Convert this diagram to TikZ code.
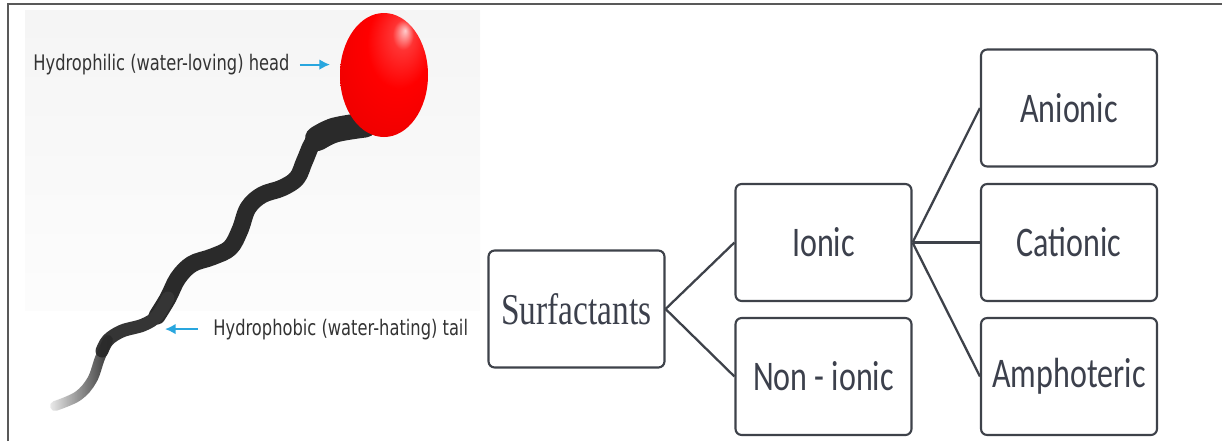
\documentclass[tikz,border=0pt]{standalone}
\usepackage{fontspec}
\usepackage{graphicx}
\usetikzlibrary{arrows.meta, shapes.geometric, fadings}

\setmainfont{Liberation Serif}
\newfontfamily\boxfont{Carlito}
\newfontfamily\labelfont{DejaVu Sans}

\definecolor{boxline}{HTML}{3E424A}
\definecolor{boxtext}{HTML}{3C404C}
\definecolor{arrowblue}{HTML}{29A6DE}
\definecolor{tailgray}{HTML}{2A2A2A}

% all text is set a little narrow
\newcommand{\narrow}[1]{\scalebox{0.76}[1]{#1}}

% glossy red head, highlight up and to the right
\pgfdeclareradialshading{headshade}{\pgfpoint{12bp}{18bp}}{%
  color(0bp)=(red!20!white); color(6bp)=(red!80!white); color(18bp)=(red);
  color(40bp)=(red!92!black); color(60bp)=(red!75!black)}
\tikzfading[name=tailfade, left color=transparent!90, right color=transparent!0]

\begin{document}
\begin{tikzpicture}[
    box/.style={draw=boxline, line width=1.2pt, rounded corners=3.5pt, fill=white,
                minimum width=3.52cm, minimum height=2.34cm, text=boxtext,
                font=\boxfont\fontsize{24}{28}\selectfont},
    link/.style={draw=boxline, line width=1.3pt},
    pointer/.style={draw=arrowblue, line width=1.1pt, -{Latex[length=6pt, width=6pt]}},
    label/.style={anchor=base west, inner sep=0pt, text=black!80,
                  font=\labelfont\fontsize{12.2}{14}\selectfont}
]
    \useasboundingbox (0,0) rectangle (24.44,8.82);

    % --- Frame ---
    \draw[line width=1.2pt, black!65] (0.16,0) -- (0.16,8.74) -- (24.44,8.74);

    % --- Molecule ---

    % backdrop of the molecule
    \shade[top color=black!4, bottom color=black!1] (0.5,2.62) rectangle (9.6,8.62);

    % tail: thick near the head, thinner and fading out at the end
    \draw[tailgray, line width=0.5cm, line cap=round] plot[smooth, tension=0.6]
        coordinates {(7.30,6.32) (6.70,6.22) (6.35,6.05)};
    \draw[tailgray, line width=0.34cm, line cap=round, line join=round] plot[smooth, tension=0.6]
        coordinates {(7.30,6.32) (6.70,6.22) (6.30,6.02) (6.10,5.62) (5.94,5.26)
                     (5.64,5.06) (5.24,4.92) (4.96,4.66) (4.80,4.22) (4.60,3.86)
                     (4.24,3.68) (3.84,3.54) (3.56,3.26) (3.36,2.86) (3.14,2.50)};
    \draw[tailgray!95!white, line width=0.26cm, line cap=round, line join=round] plot[smooth, tension=0.6]
        coordinates {(3.36,2.86) (3.14,2.50) (2.86,2.32) (2.44,2.20) (2.16,2.02) (2.04,1.80)};
    \draw[tailgray, line width=0.2cm, line cap=round, path fading=tailfade] plot[smooth, tension=0.6]
        coordinates {(2.16,2.02) (2.00,1.66) (1.84,1.22) (1.56,0.90) (1.10,0.70)};

    % head
    \node[ellipse, shade, shading=headshade, minimum width=1.76cm, minimum height=2.48cm,
          inner sep=0pt] (head) at (7.68,7.32) {};

    % labels with their arrows
    \node[label] (hlabel) at (0.66,7.41) {\narrow{Hydrophilic (water-loving) head}};
    \coordinate (headtip) at (6.6,7.56);
    \draw[pointer] ([xshift=0.2cm]hlabel.east) -- (hlabel.east -| headtip);

    \node[label] (tlabel) at (4.26,2.12) {\narrow{Hydrophobic (water-hating) tail}};
    \coordinate (tailtip) at (3.30,2.26);
    \draw[pointer] ([xshift=-0.3cm]tlabel.west) -- (tlabel.west -| tailtip);

    % --- Classification ---

    % 1. Root
    \node[box, font=\rmfamily\fontsize{25}{30}\selectfont] (surf) at (11.53,2.64) {\narrow{Surfactants}};

    % 2. Ionic / non-ionic
    \node[box] (ionic) at (16.47,3.97) {\narrow{Ionic}};
    \node[box] (nonionic) at (16.47,1.29) {\narrow{Non - ionic}};

    % 3. Kinds of ionic
    \node[box] (anionic) at (21.38,6.66) {\narrow{Anionic}};
    \node[box] (cationic) at (21.38,3.97) {\narrow{Cationic}};
    \node[box] (amphoteric) at (21.38,1.29) {\narrow{Amphoteric}};

    % --- Links ---
    \draw[link] (surf.east) -- (ionic.west);
    \draw[link] (surf.east) -- (nonionic.west);
    \draw[link] (ionic.east) -- (anionic.west);
    \draw[link] (ionic.east) -- (cationic.west);
    \draw[link] (ionic.east) -- (amphoteric.west);

\end{tikzpicture}
\end{document}
